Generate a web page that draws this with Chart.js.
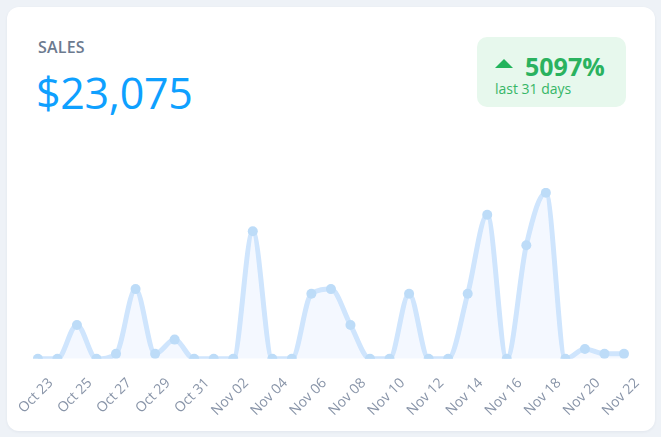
<!DOCTYPE html>
<html>
<head>
<meta charset="utf-8">
<script src="https://cdn.jsdelivr.net/npm/chart.js@4.4.0/dist/chart.umd.min.js"></script>
<style>
  html, body { margin:0; padding:0; width:661px; height:437px; background:#eef2f7; overflow:hidden; font-family:"Open Sans", sans-serif; }
  .card { position:absolute; left:7px; top:7px; width:648px; height:424px; background:#fff; border-radius:12px; box-shadow:0 1px 3px rgba(30,50,90,0.06); }
  .title { position:absolute; left:31px; top:29px; font-size:16px; font-weight:600; color:#6c7a8f; letter-spacing:0.2px; }
  .value { position:absolute; left:29px; top:56px; font-size:43px; font-weight:400; color:#0ea0ff; letter-spacing:-0.3px; }
  .badge { position:absolute; left:470px; top:30px; width:149px; height:70px; background:#e7f8ed; border-radius:10px; }
  .tri { position:absolute; left:18px; top:22px; width:0; height:0; border-left:9px solid transparent; border-right:9px solid transparent; border-bottom:9px solid #22b45c; }
  .pct { position:absolute; left:48px; top:12px; font-size:25px; font-weight:700; color:#2ab25f; }
  .sub { position:absolute; left:18px; top:42px; font-size:14px; color:#36b667; }
  .chartbox { position:absolute; left:-7px; top:176px; width:655px; height:248px; }
</style>
</head>
<body>
<div class="card">
  <div class="title">SALES</div>
  <div class="value">$23,075</div>
  <div class="badge"><div class="tri"></div><div class="pct">5097%</div><div class="sub">last 31 days</div></div>
  <div class="chartbox"><canvas id="c"></canvas></div>
</div>
<script>
const categories = ['Oct 23','Oct 24','Oct 25','Oct 26','Oct 27','Oct 28','Oct 29','Oct 30','Oct 31',
  'Nov 01','Nov 02','Nov 03','Nov 04','Nov 05','Nov 06','Nov 07','Nov 08','Nov 09','Nov 10',
  'Nov 11','Nov 12','Nov 13','Nov 14','Nov 15','Nov 16','Nov 17','Nov 18','Nov 19','Nov 20',
  'Nov 21','Nov 22'];
const sales = [0,0,780,0,115,1605,115,443,0,
  0,0,2935,0,0,1497,1605,780,0,0,
  1497,0,0,1497,3316,0,2614,3820,0,226,
  115,115];
const yMax = 3930;

new Chart(document.getElementById('c'), {
  type:'line',
  data:{ labels:categories, datasets:[{
    data:sales,
    borderColor:'rgba(207,229,253,1)',
    backgroundColor:'rgba(236,244,255,0.6)',
    fill:true,
    borderWidth:5,
    tension:0.4,
    cubicInterpolationMode:'monotone',
    pointRadius:5,
    pointBackgroundColor:'#bddcf8',
    pointBorderWidth:0,
    pointHoverRadius:5
  }]},
  options:{
    responsive:true, maintainAspectRatio:false, animation:false,
    layout:{ padding:{ left:0, right:31, top:0, bottom:4 } },
    plugins:{ legend:{display:false}, tooltip:{enabled:false} },
    scales:{
      y:{ display:false, min:0, max:yMax },
      x:{ grid:{display:false}, border:{display:false},
          ticks:{ color:'#8894a8', font:{family:'Open Sans', size:14}, maxRotation:45, minRotation:45, autoSkip:false, labelOffset:13, padding:8,
            callback:function(v,i){ return i%2===0 ? this.getLabelForValue(v) : ''; } } }
    }
  }
});
</script>
</body>
</html>
